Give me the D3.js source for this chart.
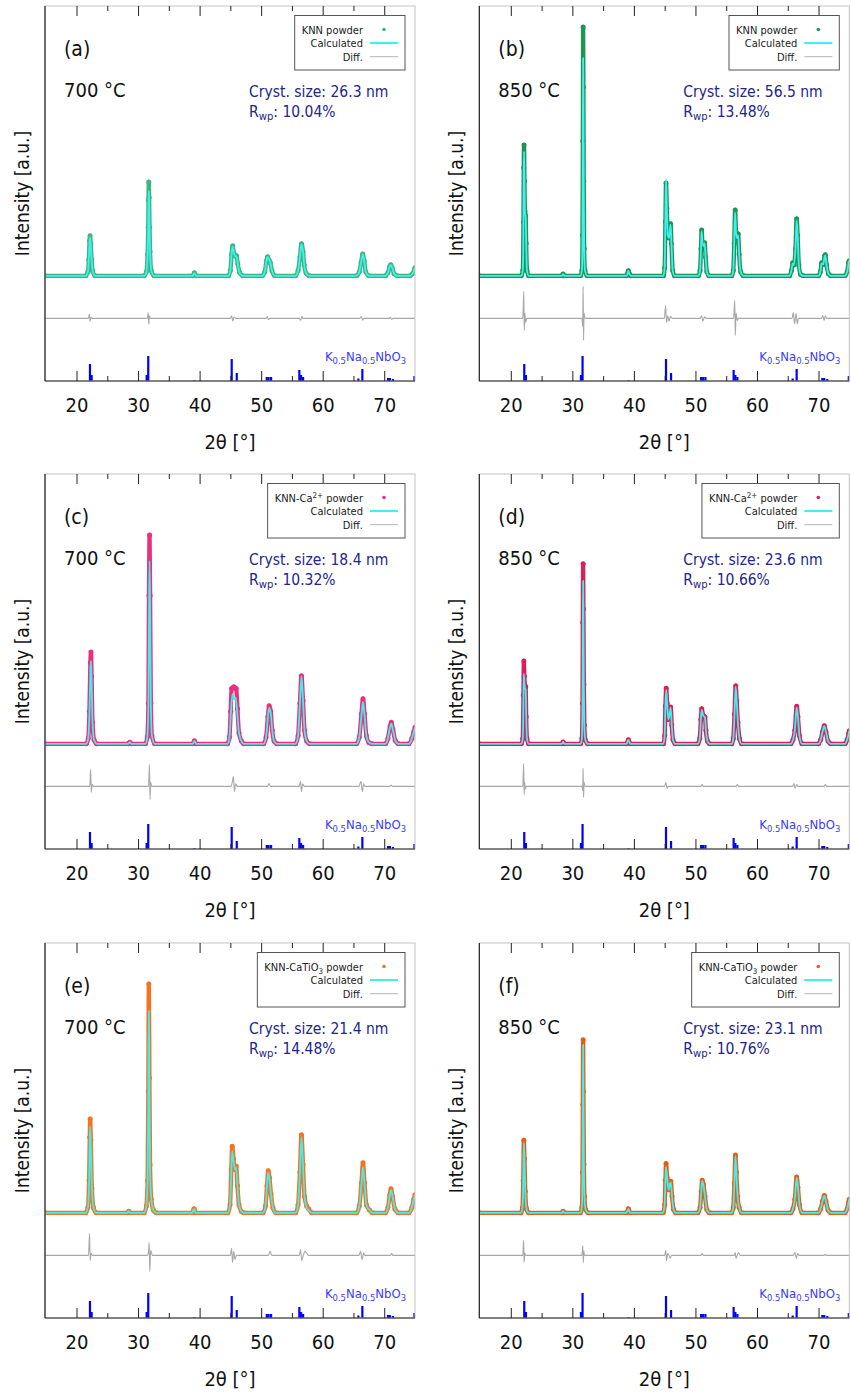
<!DOCTYPE html>
<html>
<meta charset='utf-8'>
<head>
<title>XRD refinements KNN</title>
<script src='https://d3js.org/d3.v7.min.js'></script>
<style>
body { margin: 0; background: #fff; }
text { font-family: "DejaVu Sans Condensed", "DejaVu Sans", sans-serif; font-stretch: condensed; }
</style>
</head>
<body>
<div id='chart'></div>
<script>
// x axis
var xDomain = [14.88, 75]
var xMajor = [20, 30, 40, 50, 60, 70]
var xMinor = [25, 35, 45, 55, 65]

// panel texts
var panelLetters = ['(a)', '(b)', '(c)', '(d)', '(e)', '(f)']
var temps = ['700 °C', '850 °C', '700 °C', '850 °C', '700 °C', '850 °C']
var crystSizes = ['26.3', '56.5', '18.4', '23.6', '21.4', '23.1']
var rwps = ['10.04', '13.48', '10.32', '10.66', '14.48', '10.76']
var sampleNames = [
  [['KNN powder', '']], [['KNN powder', '']],
  [['KNN-Ca', ''], ['2+', 'sup'], [' powder', '']], [['KNN-Ca', ''], ['2+', 'sup'], [' powder', '']],
  [['KNN-CaTiO', ''], ['3', 'sub'], [' powder', '']], [['KNN-CaTiO', ''], ['3', 'sub'], [' powder', '']]
]
var obsColors = ['#3db57e', '#1f9455', '#ec2f7b', '#d8205a', '#f47221', '#e85d14']

// reference pattern K0.5Na0.5NbO3 (2theta, relative intensity)
var stickPos = [22.17, 22.44, 31.38, 31.64, 39.12, 45.2, 46.02, 50.9, 51.2, 51.6, 56.19, 56.47, 56.8, 65.78, 66.43, 70.6, 70.9, 71.4, 74.9]
var stickInt = [68, 24, 24, 100, 3, 88, 32, 16, 16, 16, 44, 24, 16, 10, 48, 12, 12, 8, 20]

// observed / calculated / difference, [2theta, intensity a.u.]
var obsA = [[14.88,0],[21.5,0],[21.85,1.5],[22.0,6],[22.12,13],[22.2,14.8],[22.3,12],[22.45,6],[22.6,2],[23.0,0],
  [31.0,0],[31.35,1.5],[31.55,8],[31.65,18],[31.7,28],[31.75,34.8],[31.8,29],[31.87,18],[31.95,9],[32.15,2],[32.6,0],
  [38.9,0],[39.15,1.1],[39.4,0],
  [44.7,0],[45.0,2],[45.2,8],[45.38,11.1],[45.58,8.3],[45.8,7.2],[46.0,7.4],[46.2,4.5],[46.5,1.2],[47.0,0],
  [50.2,0],[50.6,1.5],[50.85,5.5],[51.05,7.1],[51.3,5.8],[51.5,4.8],[51.75,2],[52.2,0],
  [55.6,0],[56.0,2],[56.3,7],[56.55,11.9],[56.8,9],[57.0,4],[57.3,1],[57.8,0],
  [65.5,0],[65.95,1.5],[66.25,5],[66.5,8.1],[66.75,5.5],[67.0,1.5],[67.5,0],
  [70.2,0],[70.6,1.2],[70.9,3.5],[71.05,4.1],[71.3,3],[71.6,0.8],[72.1,0],
  [74.2,0],[74.6,0.8],[75,3]]
var calcA = [[14.88,0],[21.5,0],[21.85,1.5],[22.0,6],[22.12,12.5],[22.2,14.2],[22.3,11.5],[22.45,6],[22.6,2],[23.0,0],
  [31.0,0],[31.35,1.5],[31.55,8],[31.65,17],[31.7,26],[31.75,31.5],[31.8,27],[31.87,17],[31.95,9],[32.15,2],[32.6,0],
  [38.9,0],[39.15,1],[39.4,0],
  [44.7,0],[45.0,2],[45.2,8],[45.38,10.8],[45.58,8.3],[45.8,7.2],[46.0,7.2],[46.2,4.5],[46.5,1.2],[47.0,0],
  [50.2,0],[50.6,1.5],[50.85,5.5],[51.05,7],[51.3,5.8],[51.5,4.7],[51.75,2],[52.2,0],
  [55.6,0],[56.0,2],[56.3,7],[56.55,11.6],[56.8,9],[57.0,4],[57.3,1],[57.8,0],
  [65.5,0],[65.95,1.5],[66.25,5],[66.5,7.9],[66.75,5.5],[67.0,1.5],[67.5,0],
  [70.2,0],[70.6,1.2],[70.9,3.5],[71.05,4],[71.3,3],[71.6,0.8],[72.1,0],
  [74.2,0],[74.6,0.8],[75,3]]
var diffA = [[14.88,0],[21.9,0],[22.1,1.5],[22.2,-1.1],[22.35,0.4],[22.6,0],[31.5,0],[31.65,2.2],[31.75,-2.2],[31.85,1],[32.0,0],
  [45.0,0],[45.2,1],[45.4,-1],[45.6,0.5],[45.9,0],[50.8,0],[51.0,0.7],[51.2,-0.5],[51.4,0],[56.2,0],[56.4,-0.7],[56.6,0.7],[56.8,0],
  [66.0,0],[66.3,0.7],[66.5,-0.7],[66.7,0],[70.8,0],[71.0,0.4],[71.2,-0.3],[71.4,0],[75,0]]

var obsB = [[14.88,0],[21.7,0],[21.95,2],[22.05,20],[22.1,40],[22.15,48.5],[22.22,35],[22.3,24],[22.42,22.2],[22.5,12],[22.62,2],[22.9,0],
  [28.3,0],[28.5,0.7],[28.7,0],
  [31.35,0],[31.55,2],[31.65,15],[31.7,50],[31.75,92.2],[31.8,70],[31.85,35],[31.92,10],[32.05,2],[32.4,0],
  [38.8,0],[39.0,1],[39.1,1.9],[39.25,0.8],[39.5,0],
  [44.8,0],[45.0,3],[45.12,20],[45.22,34.4],[45.35,25],[45.5,15],[45.7,14],[45.85,17],[45.97,19.3],[46.1,12],[46.3,2],[46.6,0],
  [50.5,0],[50.75,2],[50.9,10],[51.0,17],[51.15,12],[51.35,11],[51.5,12.2],[51.65,7],[51.85,1.5],[52.2,0],
  [55.9,0],[56.15,2],[56.3,12],[56.45,24.4],[56.6,16],[56.75,14],[56.95,15.5],[57.1,8],[57.35,1.5],[57.8,0],
  [65.3,0],[65.6,2],[65.8,4.8],[66.0,4],[66.25,10],[66.45,21.1],[66.6,15],[66.8,4],[67.1,0.5],[67.5,0],
  [70.0,0],[70.3,1.5],[70.5,4.8],[70.75,4.2],[71.0,7.4],[71.1,7.8],[71.3,4],[71.6,0.8],[72.0,0],
  [74.3,0],[74.65,1.5],[74.9,5],[75,5.6]]
var calcB = [[14.88,0],[21.7,0],[21.95,2],[22.05,19],[22.1,38],[22.15,46],[22.22,34],[22.3,24],[22.42,21.5],[22.5,12],[22.62,2],[22.9,0],
  [28.3,0],[28.5,0.6],[28.7,0],
  [31.35,0],[31.55,2],[31.65,15],[31.7,46],[31.75,80.7],[31.8,62],[31.85,33],[31.92,10],[32.05,2],[32.4,0],
  [38.8,0],[39.0,1],[39.1,1.8],[39.25,0.8],[39.5,0],
  [44.8,0],[45.0,3],[45.12,21],[45.22,35.8],[45.35,25],[45.5,15],[45.7,14],[45.85,17],[45.97,19],[46.1,12],[46.3,2],[46.6,0],
  [50.5,0],[50.75,2],[50.9,10],[51.0,16.5],[51.15,12],[51.35,11],[51.5,12],[51.65,7],[51.85,1.5],[52.2,0],
  [55.9,0],[56.15,2],[56.3,13],[56.45,23.5],[56.6,16],[56.75,14],[56.95,15],[57.1,8],[57.35,1.5],[57.8,0],
  [65.3,0],[65.6,2],[65.8,4.5],[66.0,4],[66.25,10],[66.45,20.5],[66.6,15],[66.8,4],[67.1,0.5],[67.5,0],
  [70.0,0],[70.3,1.5],[70.5,4.6],[70.75,4.2],[71.0,7.2],[71.1,7.6],[71.3,4],[71.6,0.8],[72.0,0],
  [74.3,0],[74.65,1.5],[74.9,5],[75,5.6]]
var diffB = [[14.88,0],[21.95,0],[22.1,10],[22.18,-4.4],[22.3,2],[22.4,-1.5],[22.6,0],[31.55,0],[31.68,-3],[31.75,11.9],[31.82,-8.1],[31.9,2],[32.05,0],
  [44.95,0],[45.15,4.8],[45.3,-1.5],[45.5,1],[45.7,-1],[45.95,0.8],[46.2,0],[50.8,0],[51.0,1],[51.2,-1],[51.5,0.6],[51.7,0],
  [56.2,0],[56.38,6.7],[56.48,-6.3],[56.6,2],[56.8,-0.8],[57.0,0],[65.7,0],[65.9,2.2],[66.1,-2],[66.35,1.8],[66.55,-2],[66.75,0],
  [70.5,0],[70.7,1.1],[70.9,-0.8],[71.1,1],[71.3,0],[75,0]]

var obsC = [[14.88,0],[21.6,0],[21.9,2],[22.1,12],[22.25,30],[22.35,34],[22.45,25],[22.6,8],[22.85,1.5],[23.3,0],
  [28.4,0],[28.65,0.6],[28.9,0],
  [31.2,0],[31.5,2.5],[31.68,15],[31.78,55],[31.87,77.4],[31.96,55],[32.08,15],[32.25,3],[32.7,0],
  [38.9,0],[39.15,1.1],[39.4,0],
  [44.55,0],[44.85,2.5],[45.05,12],[45.2,20.5],[45.55,21.1],[45.95,20.5],[46.15,13],[46.4,4],[46.8,1],[47.2,0],
  [50.4,0],[50.8,2.5],[51.1,10],[51.3,14.1],[51.55,12],[51.8,5],[52.1,1],[52.6,0],
  [55.6,0],[56.0,3],[56.3,15],[56.55,25.2],[56.8,16],[57.05,5],[57.4,1],[57.9,0],
  [65.5,0],[65.95,2.5],[66.3,11],[66.55,16.7],[66.8,11],[67.1,3],[67.5,0.5],[68,0],
  [70.2,0],[70.6,2],[70.95,6.5],[71.15,8],[71.4,5.5],[71.8,1.2],[72.3,0],
  [74.0,0],[74.5,2],[74.8,4.5],[75,6.1]]
var calcC = [[14.88,0],[21.6,0],[21.9,2],[22.1,11],[22.25,27],[22.35,30.7],[22.45,23],[22.6,8],[22.85,1.5],[23.3,0],
  [28.4,0],[28.65,0.6],[28.9,0],
  [31.2,0],[31.5,2.5],[31.68,14],[31.78,49],[31.87,67.8],[31.96,50],[32.08,14],[32.25,3],[32.7,0],
  [38.9,0],[39.15,1.1],[39.4,0],
  [44.55,0],[44.85,2.5],[45.1,12],[45.35,18.5],[45.6,16.5],[45.85,17.2],[46.1,12],[46.4,4],[46.8,1],[47.2,0],
  [50.4,0],[50.8,2.5],[51.1,10],[51.3,13.3],[51.55,11.5],[51.8,5],[52.1,1],[52.6,0],
  [55.6,0],[56.0,3],[56.3,15],[56.55,25],[56.8,16],[57.05,5],[57.4,1],[57.9,0],
  [65.5,0],[65.95,2.5],[66.3,10.5],[66.55,15.5],[66.8,10.5],[67.1,3],[67.5,0.5],[68,0],
  [70.2,0],[70.6,2],[70.95,6.2],[71.15,7.5],[71.4,5.3],[71.8,1.2],[72.3,0],
  [74.0,0],[74.5,2],[74.8,4.5],[75,6]]
var diffC = [[14.88,0],[22.15,0],[22.3,6.3],[22.4,-2.2],[22.55,0.8],[22.7,0],[31.7,0],[31.85,8.1],[31.95,-4.8],[32.05,1.5],[32.2,0],
  [45.1,0],[45.3,1.5],[45.5,3.7],[45.65,-1.9],[45.85,1],[46.1,0],[51.0,0],[51.3,1.1],[51.5,0],[56.2,0],[56.4,1.9],[56.55,-1.9],[56.75,1],[57.0,0],
  [65.9,0],[66.2,1.9],[66.45,-1.9],[66.65,1],[66.85,0],[70.9,0],[71.1,0.5],[71.3,0],[75,0]]

var obsD = [[14.88,0],[21.7,0],[21.95,2],[22.05,18],[22.12,30.7],[22.2,25],[22.32,21.5],[22.42,21.1],[22.5,10],[22.62,2],[22.9,0],
  [28.3,0],[28.5,0.7],[28.7,0],
  [31.35,0],[31.55,2],[31.65,15],[31.7,45],[31.75,66.7],[31.8,50],[31.87,22],[31.95,7],[32.1,1.5],[32.5,0],
  [38.8,0],[39.1,1.5],[39.4,0],
  [44.8,0],[45.0,3],[45.12,14],[45.25,20.6],[45.4,15],[45.6,9],[45.8,11],[45.98,13.6],[46.15,7],[46.35,1.5],[46.7,0],
  [50.4,0],[50.7,2],[50.88,9],[51.02,13],[51.25,10.5],[51.55,9.9],[51.7,5],[51.95,1],[52.3,0],
  [55.9,0],[56.15,2],[56.35,11],[56.54,21.5],[56.7,16],[56.9,8],[57.15,2],[57.5,0],
  [65.5,0],[65.85,1.5],[66.15,5],[66.45,13.9],[66.65,10],[66.9,3],[67.3,0],
  [70.0,0],[70.35,1.5],[70.65,4.5],[70.94,6.7],[71.2,4.5],[71.55,1],[72,0],
  [74.3,0],[74.65,1.5],[74.9,3.8],[75,4.8]]
var calcD = [[14.88,0],[21.7,0],[21.95,2],[22.05,16],[22.12,25.9],[22.2,23],[22.32,20.5],[22.42,20],[22.5,10],[22.62,2],[22.9,0],
  [28.3,0],[28.5,0.7],[28.7,0],
  [31.35,0],[31.55,2],[31.65,15],[31.7,42],[31.75,60.4],[31.8,46],[31.87,21],[31.95,7],[32.1,1.5],[32.5,0],
  [38.8,0],[39.1,1.4],[39.4,0],
  [44.8,0],[45.0,3],[45.12,13.5],[45.25,20],[45.4,15],[45.6,9],[45.8,11],[45.98,13.4],[46.15,7],[46.35,1.5],[46.7,0],
  [50.4,0],[50.7,2],[50.88,9],[51.02,12.6],[51.25,10.5],[51.55,9.7],[51.7,5],[51.95,1],[52.3,0],
  [55.9,0],[56.15,2],[56.35,11],[56.54,21.2],[56.7,16],[56.9,8],[57.15,2],[57.5,0],
  [65.5,0],[65.85,1.5],[66.15,5],[66.45,13.5],[66.65,10],[66.9,3],[67.3,0],
  [70.0,0],[70.35,1.5],[70.65,4.5],[70.94,6.5],[71.2,4.5],[71.55,1],[72,0],
  [74.3,0],[74.65,1.5],[74.9,3.8],[75,4.8]]
var diffD = [[14.88,0],[21.95,0],[22.08,8.5],[22.16,-3],[22.25,1.5],[22.35,-1],[22.5,0],[31.55,0],[31.68,-1.5],[31.75,6.7],[31.82,-4.1],[31.9,1.5],[32.05,0],
  [45.0,0],[45.2,1.5],[45.4,-0.8],[45.6,0],[50.9,0],[51.1,0.7],[51.3,0],[56.6,0],[56.8,0.7],[57.0,0],
  [65.8,0],[66.0,1.1],[66.2,-0.7],[66.45,0.7],[66.7,0],[70.9,0],[71.1,0.7],[71.3,0],[75,0]]

var obsE = [[14.88,0],[21.5,0],[21.85,2],[22.05,12],[22.15,28],[22.22,34.8],[22.32,27],[22.5,9],[22.75,2],[23.2,0],
  [28.3,0],[28.5,0.6],[28.7,0],
  [31.0,0],[31.35,2.5],[31.55,12],[31.67,45],[31.75,84.8],[31.85,50],[31.95,17.8],[32.15,5],[32.5,1],[33,0],
  [38.8,0],[39.1,1.5],[39.4,0],
  [44.6,0],[44.95,3],[45.15,16],[45.3,24.7],[45.5,20],[45.75,16],[45.95,17.3],[46.15,10],[46.4,3],[46.8,0.5],[47.2,0],
  [50.3,0],[50.7,2.5],[50.95,10],[51.15,15.6],[51.35,13],[51.6,7],[51.9,2],[52.4,0],
  [55.6,0],[56.0,3],[56.3,15],[56.55,28.9],[56.8,18],[57.05,6],[57.4,2.5],[57.7,1.5],[58.2,0],
  [65.5,0],[65.95,2.5],[66.3,11],[66.55,18.5],[66.8,11],[67.1,3],[67.6,1],[68.1,0],
  [70.2,0],[70.6,2],[70.9,6.5],[71.1,8.9],[71.35,6],[71.75,1.3],[72.3,0],
  [74.0,0],[74.5,2],[74.8,5],[75,6.7]]
var calcE = [[14.88,0],[21.5,0],[21.85,2],[22.05,11],[22.15,26],[22.22,32],[22.32,25],[22.5,9],[22.75,2],[23.2,0],
  [28.3,0],[28.5,0.6],[28.7,0],
  [31.0,0],[31.35,2.5],[31.55,12],[31.67,42],[31.75,74.8],[31.85,47],[31.95,16],[32.15,5],[32.5,1],[33,0],
  [38.8,0],[39.1,1.4],[39.4,0],
  [44.6,0],[44.95,3],[45.15,15],[45.3,22.8],[45.5,19.5],[45.75,16],[45.95,16.8],[46.15,10],[46.4,3],[46.8,0.5],[47.2,0],
  [50.3,0],[50.7,2.5],[50.95,10],[51.15,15],[51.35,12.5],[51.6,7],[51.9,2],[52.4,0],
  [55.6,0],[56.0,3],[56.3,15],[56.55,28],[56.8,17.5],[57.05,6],[57.4,2],[57.7,1],[58.2,0],
  [65.5,0],[65.95,2.5],[66.3,10.5],[66.55,17],[66.8,10.5],[67.1,3],[67.6,1],[68.1,0],
  [70.2,0],[70.6,2],[70.9,6.3],[71.1,8.5],[71.35,6],[71.75,1.3],[72.3,0],
  [74.0,0],[74.5,2],[74.8,5],[75,6.6]]
var diffE = [[14.88,0],[21.95,0],[22.12,8.1],[22.22,-1.9],[22.35,0.8],[22.55,0],[31.5,0],[31.7,1.5],[31.8,4.8],[31.9,-5.9],[32.05,2],[32.3,0],
  [45.0,0],[45.2,2.6],[45.35,-2.6],[45.55,1.5],[45.75,-1.5],[46.0,0],[51.2,0],[51.45,1.5],[51.7,0],
  [56.2,0],[56.4,2.2],[56.6,-1.9],[56.85,0],[57.1,1.5],[57.4,0.8],[57.7,0],
  [65.9,0],[66.15,1.5],[66.4,-1.5],[66.65,1],[66.85,0],[71.0,0],[71.2,0.7],[71.4,0],[75,0]]

var obsF = [[14.88,0],[21.65,0],[21.9,2],[22.02,12],[22.12,26.9],[22.22,20],[22.35,8],[22.55,1.5],[22.9,0],
  [28.3,0],[28.5,0.6],[28.7,0],
  [31.3,0],[31.55,2],[31.65,15],[31.7,40],[31.75,64.1],[31.8,45],[31.88,18],[31.97,6],[32.15,1.2],[32.6,0],
  [38.8,0],[39.1,1.5],[39.4,0],
  [44.75,0],[45.0,3],[45.12,12],[45.22,18.3],[45.4,13],[45.65,8.5],[45.9,11.2],[46.0,11.7],[46.2,6],[46.45,1.2],[46.8,0],
  [50.4,0],[50.75,2],[50.95,8],[51.1,12.1],[51.3,10.5],[51.55,6],[51.85,1.2],[52.3,0],
  [55.9,0],[56.15,2],[56.33,11],[56.5,21.4],[56.65,15],[56.85,6],[57.1,2],[57.5,0],
  [65.5,0],[65.85,1.5],[66.15,5],[66.45,13.3],[66.65,9.5],[66.9,3],[67.3,0],
  [70.0,0],[70.35,1.5],[70.65,4.3],[70.95,6.4],[71.2,4.3],[71.55,1],[72,0],
  [74.3,0],[74.65,1.5],[74.9,4],[75,5]]
var calcF = [[14.88,0],[21.65,0],[21.9,2],[22.02,11],[22.12,26],[22.22,19.5],[22.35,8],[22.55,1.5],[22.9,0],
  [28.3,0],[28.5,0.6],[28.7,0],
  [31.3,0],[31.55,2],[31.65,15],[31.7,39],[31.75,62.2],[31.8,44],[31.88,18],[31.97,6],[32.15,1.2],[32.6,0],
  [38.8,0],[39.1,1.4],[39.4,0],
  [44.75,0],[45.0,3],[45.12,11.5],[45.22,17],[45.4,13],[45.65,8.5],[45.9,11],[46.0,11.3],[46.2,6],[46.45,1.2],[46.8,0],
  [50.4,0],[50.75,2],[50.95,8],[51.1,11.8],[51.3,10.3],[51.55,6],[51.85,1.2],[52.3,0],
  [55.9,0],[56.15,2],[56.33,11],[56.5,21],[56.65,15],[56.85,6],[57.1,2],[57.5,0],
  [65.5,0],[65.85,1.5],[66.15,5],[66.45,13],[66.65,9.5],[66.9,3],[67.3,0],
  [70.0,0],[70.35,1.5],[70.65,4.3],[70.95,6.3],[71.2,4.3],[71.55,1],[72,0],
  [74.3,0],[74.65,1.5],[74.9,4],[75,5]]
var diffF = [[14.88,0],[21.95,0],[22.08,5.6],[22.16,-2.6],[22.28,0.8],[22.45,0],[31.55,0],[31.7,3.7],[31.78,-2.6],[31.86,1.5],[32.0,0],
  [45.0,0],[45.18,1.9],[45.3,-1.9],[45.5,0.8],[45.9,-1],[46.1,0],[50.9,0],[51.1,0.7],[51.3,0],
  [56.3,0],[56.45,1.1],[56.6,-1.1],[56.8,0],[57.0,1.1],[57.3,0],
  [65.9,0],[66.15,1.1],[66.4,-1.1],[66.6,0.8],[66.8,0],[70.9,0],[71.1,0.4],[71.3,0],[75,0]]

var obsAll = [obsA, obsB, obsC, obsD, obsE, obsF]
var calcAll = [calcA, calcB, calcC, calcD, calcE, calcF]
var diffAll = [diffA, diffB, diffC, diffD, diffE, diffF]

var diffOffset = -15.8

// layout
var width = 851, height = 1393
var panelW = 370, panelH = 375
var colX = [45, 479.3], rowY = [6, 474, 943]

var svg = d3.select('#chart').append('svg')
  .attr('width', width)
  .attr('height', height)

var x = d3.scaleLinear().domain(xDomain).range([0, panelW])
var y = d3.scaleLinear().domain([-39, 100]).range([panelH, 0])
var yStick = d3.scaleLinear().domain([0, 100]).range([panelH, panelH - 25])

var line = d3.line()
  .x(function(d) { return x(d[0]) })
  .y(function(d) { return y(d[1]) })
  .curve(d3.curveMonotoneX)
var diffLine = d3.line()
  .x(function(d) { return x(d[0]) })
  .y(function(d) { return y(d[1] + diffOffset) })
  .curve(d3.curveMonotoneX)

function addParts(sel, parts, baseSize) {
  parts.forEach(function(p, k) {
    var t = sel.append('tspan').text(p[0])
    var prev = k > 0 ? parts[k - 1][1] : ''
    if (p[1] === 'sup') t.attr('dy', -4).attr('font-size', baseSize * 0.72)
    else if (p[1] === 'sub') t.attr('dy', 3).attr('font-size', baseSize * 0.72)
    else if (prev === 'sup') t.attr('dy', 4)
    else if (prev === 'sub') t.attr('dy', -3)
  })
}

for (var i = 0; i < 6; i++) {
  var g = svg.append('g')
    .attr('transform', 'translate(' + colX[i % 2] + ',' + rowY[Math.floor(i / 2)] + ')')

  g.append('clipPath').attr('id', 'clip' + i)
    .append('rect').attr('width', panelW).attr('height', panelH)
  var plot = g.append('g').attr('clip-path', 'url(#clip' + i + ')')

  // reference sticks
  plot.selectAll('.stick')
    .data(stickPos)
    .enter().append('rect')
    .attr('x', function(d) { return x(d) - 1 })
    .attr('y', function(d, k) { return yStick(stickInt[k]) })
    .attr('width', 2.2)
    .attr('height', function(d, k) { return panelH - yStick(stickInt[k]) })
    .attr('fill', '#0000ff')

  // difference
  plot.append('path')
    .datum(diffAll[i])
    .attr('d', diffLine)
    .attr('fill', 'none')
    .attr('stroke', '#a8a8a8')
    .attr('stroke-width', 1.1)

  // observed points
  plot.append('path')
    .datum(obsAll[i])
    .attr('d', line)
    .attr('fill', 'none')
    .attr('stroke', obsColors[i])
    .attr('stroke-width', 4.3)
    .attr('stroke-linejoin', 'round')
  plot.selectAll('.obs')
    .data(obsAll[i])
    .enter().append('circle')
    .attr('cx', function(d) { return x(d[0]) })
    .attr('cy', function(d) { return y(d[1]) })
    .attr('r', 2.5)
    .attr('fill', obsColors[i])

  // calculated
  plot.append('path')
    .datum(calcAll[i])
    .attr('d', line)
    .attr('fill', 'none')
    .attr('stroke', '#40f0f0')
    .attr('stroke-width', 1.8)

  // frame
  g.append('rect')
    .attr('width', panelW).attr('height', panelH)
    .attr('fill', 'none').attr('stroke', '#c4c4c4').attr('stroke-width', 1)
  g.append('line').attr('x1', 0).attr('x2', 0).attr('y1', 0).attr('y2', panelH)
    .attr('stroke', '#222').attr('stroke-width', 1.2)
  g.append('line').attr('x1', 0).attr('x2', panelW).attr('y1', panelH).attr('y2', panelH)
    .attr('stroke', '#222').attr('stroke-width', 1.2)

  // ticks
  var botAx = g.append('g').attr('transform', 'translate(0,' + panelH + ')')
    .call(d3.axisBottom(x).tickValues(xMajor).tickSize(-10).tickPadding(17))
  botAx.select('.domain').remove()
  botAx.selectAll('text').attr('font-size', 20).attr('fill', '#111')
    .style('font-family', '"DejaVu Sans Condensed", "DejaVu Sans", sans-serif')
  var botMinor = g.append('g').attr('transform', 'translate(0,' + panelH + ')')
    .call(d3.axisBottom(x).tickValues(xMinor).tickSize(-5).tickFormat(''))
  botMinor.select('.domain').remove()
  var topAx = g.append('g')
    .call(d3.axisTop(x).tickValues(xMajor).tickSize(-10).tickFormat(''))
  topAx.select('.domain').remove()
  var topMinor = g.append('g')
    .call(d3.axisTop(x).tickValues(xMinor).tickSize(-5).tickFormat(''))
  topMinor.select('.domain').remove()
  g.selectAll('.tick line').attr('stroke', '#222')

  // axis titles
  g.append('text')
    .attr('transform', 'translate(-22,' + (panelH / 2) + ') rotate(-90)')
    .attr('text-anchor', 'middle')
    .attr('dominant-baseline', 'middle')
    .attr('font-size', 19)
    .attr('fill', '#111')
    .text('Intensity [a.u.]')
  g.append('text')
    .attr('x', panelW / 2).attr('y', panelH + 68)
    .attr('text-anchor', 'middle')
    .attr('font-size', 20)
    .attr('fill', '#111')
    .text('2θ [°]')

  // panel annotations
  g.append('text').attr('x', 19).attr('y', 50)
    .attr('font-size', 21).attr('fill', '#111').text(panelLetters[i])
  g.append('text').attr('x', 19).attr('y', 91)
    .attr('font-size', 20).attr('fill', '#111').text(temps[i])
  g.append('text').attr('x', 204).attr('y', 91)
    .attr('font-size', 15.5).attr('fill', '#24248c')
    .text('Cryst. size: ' + crystSizes[i] + ' nm')
  var rw = g.append('text').attr('x', 204).attr('y', 111)
    .attr('font-size', 15.5).attr('fill', '#24248c')
  addParts(rw, [['R', ''], ['wp', 'sub'], [': ' + rwps[i] + '%', '']], 15.5)

  // phase label
  var ph = g.append('text').attr('x', 361).attr('y', panelH - 20)
    .attr('text-anchor', 'end').attr('font-size', 13).attr('fill', '#3a3aff')
  addParts(ph, [['K', ''], ['0.5', 'sub'], ['Na', ''], ['0.5', 'sub'], ['NbO', ''], ['3', 'sub']], 13)

  // legend
  var leg = g.append('g')
  var rowsY = [27.5, 41, 54.7]
  var t0 = leg.append('text').attr('x', 318).attr('y', rowsY[0])
    .attr('text-anchor', 'end').attr('font-size', 11).attr('fill', '#222')
  addParts(t0, sampleNames[i], 11)
  leg.append('text').attr('x', 318).attr('y', rowsY[1])
    .attr('text-anchor', 'end').attr('font-size', 11).attr('fill', '#222').text('Calculated')
  leg.append('text').attr('x', 318).attr('y', rowsY[2])
    .attr('text-anchor', 'end').attr('font-size', 11).attr('fill', '#222').text('Diff.')
  leg.append('circle').attr('cx', 339).attr('cy', rowsY[0] - 4).attr('r', 1.8).attr('fill', obsColors[i])
  leg.append('line').attr('x1', 325).attr('x2', 353).attr('y1', rowsY[1] - 4).attr('y2', rowsY[1] - 4)
    .attr('stroke', '#40f0f0').attr('stroke-width', 2)
  leg.append('line').attr('x1', 325).attr('x2', 353).attr('y1', rowsY[2] - 4).attr('y2', rowsY[2] - 4)
    .attr('stroke', '#b4b4b4').attr('stroke-width', 1)
  var bb = t0.node().getBBox()
  leg.insert('rect', ':first-child')
    .attr('x', bb.x - 7).attr('y', 9.5)
    .attr('width', 360 - (bb.x - 7)).attr('height', 54.5)
    .attr('fill', '#fff').attr('stroke', '#555').attr('stroke-width', 1)
}
</script>
</body>
</html>
